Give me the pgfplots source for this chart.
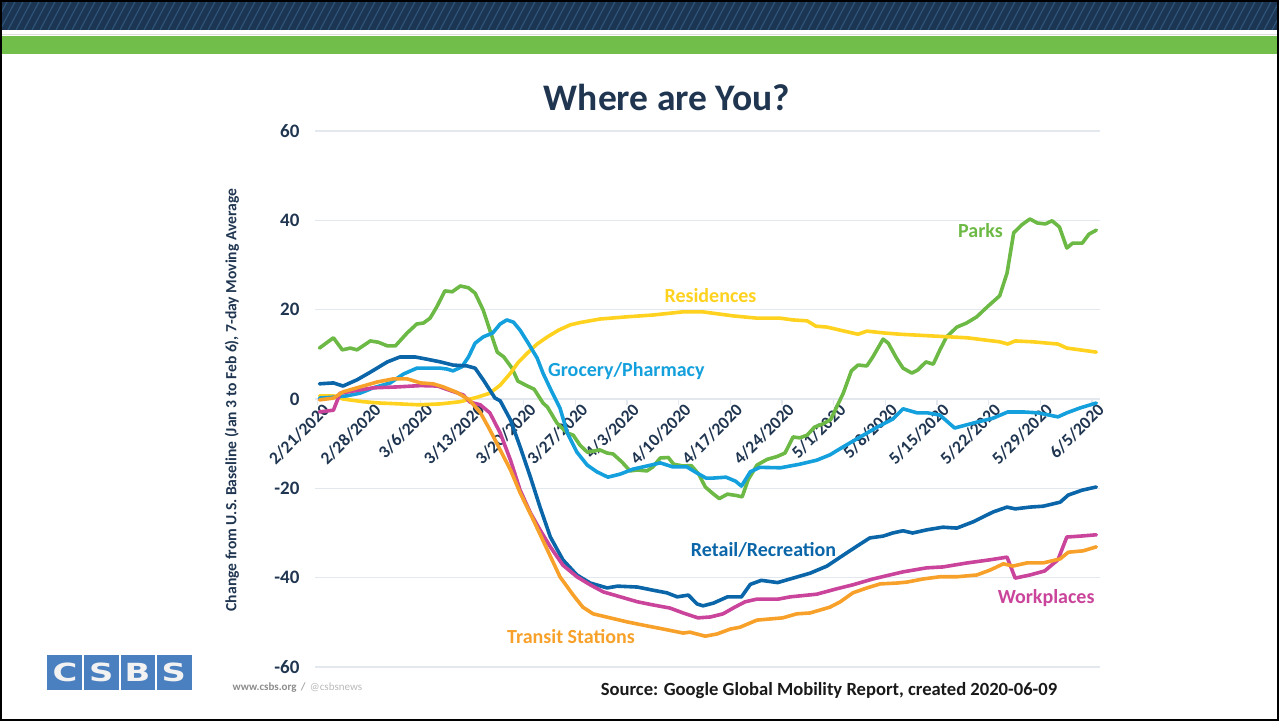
\documentclass[border=0pt]{standalone}
\usepackage{fontspec}
\setmainfont{Carlito}
\newfontfamily\logofont{DejaVu Sans}
\usepackage{pgfplots}
\pgfplotsset{compat=1.18}
\definecolor{navy}{HTML}{1F3550}
\definecolor{band}{HTML}{1B3552}
\definecolor{stripe}{HTML}{4F84B8}
\definecolor{bandgreen}{HTML}{72BE4A}
\definecolor{gridc}{HTML}{E3E8EF}
\definecolor{parkc}{HTML}{6DB945}
\definecolor{resc}{HTML}{FFD21F}
\definecolor{grocc}{HTML}{14A0DC}
\definecolor{retc}{HTML}{0A66A8}
\definecolor{workc}{HTML}{C9449A}
\definecolor{tranc}{HTML}{F7A12A}
\definecolor{logoblue}{HTML}{4A80C0}
\begin{document}
\begin{tikzpicture}[x=1pt,y=1pt]
% banner
\fill[band] (0,691) rectangle (1279,721);
\begin{scope}
\clip (0,691) rectangle (1279,721);
\foreach \x in {-40,-32,...,1300} {
  \draw[stripe, opacity=0.4, line width=1.2pt] (\x,691) -- (\x+16,721);
}
\end{scope}
\fill[gray!25] (0,686) rectangle (1279,687);
\fill[bandgreen] (0,667) rectangle (1279,685);
% frame
\draw[black, line width=2pt] (1,1) rectangle (1278,720);
% title
\node[font=\bfseries\fontsize{37.5}{37.5}\selectfont, text=navy] at (667,624) {Where are You?};
% y label
\node[rotate=90, font=\bfseries\fontsize{15.6}{15.6}\selectfont, text=navy] at (232,321) {Change from U.S. Baseline (Jan 3 to Feb 6), 7-day Moving Average};
% logo
\fill[logoblue] (47,31) rectangle (192,66);
\foreach \i in {1,2,3} { \fill[white] (47+\i*36.25-1,31) rectangle (47+\i*36.25+1,66); }
\foreach \i/\l in {0/C,1/S,2/B,3/S} {
  \node[text=white!90!gray, font=\logofont\bfseries\fontsize{25}{25}\selectfont] at (47+\i*36.25+18.1,48.5) {\scalebox{1.35}[1]{\l}};
}
\node[anchor=west, font=\bfseries\fontsize{11}{11}\selectfont, text=gray!90] at (229,33) {www.csbs.org \,\textcolor{gray!70}{/}\, \textcolor{gray!55}{\mdseries @csbsnews}};
% source
\node[font=\bfseries\fontsize{18.6}{18.6}\selectfont, text=black!90] at (829,30) {Source: Google Global Mobility Report, created 2020-06-09};
\begin{axis}[
  set layers,
  at={(315pt,54pt)}, anchor=south west, scale only axis,
  width=785pt, height=536pt,
  xmin=-0.3, xmax=106.1, ymin=-60, ymax=60,
  axis x line*=middle, axis y line*=left,
  x axis line style={draw=gridc, line width=1.2pt},
  y axis line style={draw=none},
  ytick={-60,-40,...,60},
  ymajorgrids, grid style={draw=gridc, line width=1.2pt},
  ytick style={draw=none},
  xtick={0,7,...,105},
  xticklabels={2/21/2020,2/28/2020,3/6/2020,3/13/2020,3/20/2020,3/27/2020,4/3/2020,4/10/2020,4/17/2020,4/24/2020,5/1/2020,5/8/2020,5/15/2020,5/22/2020,5/29/2020,6/5/2020},
  xtick style={draw=gridc, line width=1.2pt},
  tick align=outside, major tick length=6pt,
  /pgf/number format/assume math mode=true,
  yticklabel style={font=\bfseries\fontsize{19}{19}\selectfont, text=navy, xshift=-6pt},
  xticklabel style={rotate=45, anchor=east, font=\bfseries\fontsize{17.5}{17.5}\selectfont, text=navy, inner sep=1pt, xshift=6pt, yshift=-8pt},
  every axis plot/.append style={line width=3.6pt, line join=round, line cap=round},
  clip=false,
]
\addplot[parkc] coordinates {
(0.3,11.4)(2.2,13.7)(3.4,11.0)(4.5,11.4)(5.4,11.0)(7.2,13.0)(8.3,12.7)(9.5,11.9)(10.6,11.9)(12.2,14.8)(13.5,16.8)(14.4,17.0)(15.3,18.1)(16.2,20.6)(17.3,24.2)(18.3,24.0)(19.4,25.3)(20.5,24.9)(21.4,23.7)(22.5,19.9)(23.4,15.4)(24.4,10.5)(25.3,9.4)(26.4,6.9)(27.2,4.0)(28.5,2.9)(29.4,2.2)(30.6,-0.9)(31.2,-1.8)(32.5,-5.4)(33.9,-7.6)(34.7,-8.1)(35.6,-10.3)(36.6,-11.9)(38.3,-11.4)(39.3,-12.1)(40.1,-12.3)(41.3,-14.1)(42.4,-16.1)(43.4,-15.9)(44.7,-16.1)(45.5,-15.2)(46.5,-13.2)(47.6,-13.1)(48.3,-14.6)(49.6,-15.0)(50.7,-14.9)(51.7,-16.8)(52.6,-19.7)(53.5,-21.0)(54.5,-22.3)(55.6,-21.3)(56.8,-21.6)(57.6,-21.9)(58.4,-18.1)(59.6,-14.8)(61.0,-13.5)(62.3,-12.9)(63.4,-12.1)(64.5,-8.5)(65.4,-8.7)(66.4,-8.1)(67.4,-6.3)(68.5,-5.6)(69.6,-4.6)(70.4,-1.8)(71.3,1.3)(72.4,6.3)(73.3,7.6)(74.5,7.4)(75.3,9.4)(76.7,13.4)(77.4,12.5)(78.5,9.2)(79.4,6.9)(80.6,5.8)(81.4,6.5)(82.5,8.3)(83.5,7.8)(84.4,11.0)(85.3,13.9)(86.7,16.1)(88.0,17.0)(89.4,18.4)(90.8,20.6)(92.5,23.1)(93.5,28.2)(94.4,37.2)(95.5,39.0)(96.6,40.3)(97.6,39.4)(98.7,39.2)(99.6,39.9)(100.6,38.5)(101.6,33.8)(102.4,34.9)(103.7,34.9)(104.6,36.9)(105.6,37.8)
};
\addplot[resc] coordinates {
(0.3,0.7)(2.2,0.7)(3.5,0.0)(6.2,-0.6)(8.5,-0.9)(11.2,-1.1)(13.7,-1.3)(16.7,-1.1)(19.4,-0.6)(21.7,0.4)(23.4,1.3)(24.8,3.1)(26.2,5.8)(27.2,8.1)(28.5,10.3)(29.8,12.3)(31.2,13.9)(32.7,15.4)(34.3,16.6)(35.6,17.1)(38.3,17.9)(42.0,18.4)(45.5,18.8)(49.5,19.5)(52.3,19.5)(56.4,18.6)(59.6,18.1)(62.7,18.1)(64.5,17.7)(66.4,17.5)(67.6,16.3)(69.1,16.1)(70.9,15.4)(73.3,14.5)(74.5,15.2)(76.7,14.8)(79.0,14.5)(83.5,14.1)(88.1,13.7)(92.5,12.8)(93.6,12.3)(94.6,13.0)(97.0,12.8)(100.4,12.3)(101.6,11.4)(105.6,10.5)
};
\addplot[grocc] coordinates {
(0.3,0.2)(2.2,0.4)(4.0,0.7)(5.8,1.3)(7.6,2.5)(9.9,3.6)(11.7,5.6)(13.5,6.9)(15.3,6.9)(16.7,6.9)(17.6,6.7)(18.4,6.3)(19.6,7.2)(20.5,9.4)(21.4,12.5)(22.5,13.9)(23.8,14.8)(24.8,16.8)(25.7,17.7)(26.6,17.2)(27.5,15.4)(28.6,12.5)(29.8,9.2)(30.6,5.8)(31.8,1.6)(32.9,-2.0)(33.9,-7.6)(35.2,-11.9)(36.6,-14.8)(37.9,-16.3)(39.4,-17.5)(41.1,-16.8)(42.8,-15.7)(44.7,-15.0)(46.5,-14.3)(48.2,-15.2)(50.1,-15.2)(51.5,-16.6)(52.7,-17.7)(53.7,-17.7)(55.4,-17.5)(56.7,-18.4)(57.5,-19.5)(58.7,-16.3)(60.0,-15.3)(62.8,-15.4)(65.4,-14.6)(67.7,-13.7)(69.5,-12.5)(71.3,-10.7)(73.6,-8.5)(75.9,-6.3)(78.0,-4.5)(79.4,-2.2)(81.3,-3.1)(82.7,-3.1)(84.4,-3.6)(86.4,-6.5)(88.9,-5.4)(91.6,-4.3)(93.6,-2.9)(95.7,-2.9)(97.7,-3.1)(100.4,-4.0)(101.6,-3.1)(103.4,-2.0)(105.6,-0.9)
};
\addplot[retc] coordinates {
(0.3,3.4)(2.2,3.6)(3.5,2.9)(5.4,4.3)(7.2,6.0)(9.5,8.3)(11.2,9.4)(13.3,9.4)(14.9,8.9)(16.7,8.3)(18.4,7.6)(20.3,7.4)(21.4,6.9)(22.5,4.3)(24.1,0.2)(24.8,-0.4)(26.2,-4.7)(27.5,-10.7)(28.9,-17.5)(30.2,-24.2)(31.6,-30.9)(33.3,-36.0)(35.2,-39.4)(37.0,-41.2)(39.3,-42.3)(40.7,-41.9)(43.4,-42.1)(45.5,-42.8)(47.4,-43.4)(48.8,-44.3)(50.3,-43.9)(51.5,-45.9)(52.3,-46.3)(53.7,-45.7)(55.6,-44.3)(57.5,-44.3)(58.7,-41.5)(60.2,-40.6)(62.4,-41.1)(64.5,-40.1)(66.8,-39.0)(69.1,-37.4)(70.9,-35.4)(73.2,-32.9)(74.9,-31.1)(76.7,-30.7)(78.0,-30.0)(79.4,-29.5)(80.7,-30.0)(82.6,-29.3)(84.8,-28.7)(86.7,-28.9)(88.9,-27.5)(91.6,-25.3)(93.5,-24.2)(94.6,-24.6)(96.6,-24.2)(98.4,-24.0)(100.7,-23.1)(101.8,-21.5)(103.7,-20.4)(105.6,-19.7)
};
\addplot[workc] coordinates {
(0.3,-2.9)(2.2,-2.5)(3.1,1.3)(4.9,1.8)(7.6,2.5)(10.8,2.7)(14.0,3.0)(16.3,2.9)(18.2,1.8)(19.8,0.9)(20.7,-0.7)(22.1,-1.3)(23.4,-3.1)(24.8,-7.6)(26.2,-13.7)(27.5,-20.4)(28.9,-25.5)(30.2,-29.3)(31.6,-33.1)(33.3,-37.2)(35.2,-39.8)(37.0,-41.6)(38.8,-43.2)(41.1,-44.3)(43.4,-45.4)(45.5,-46.1)(47.8,-46.8)(49.6,-47.9)(51.6,-49.0)(53.3,-48.8)(55.0,-48.1)(56.6,-46.6)(58.0,-45.4)(59.6,-44.8)(62.5,-44.8)(64.1,-44.3)(67.7,-43.7)(70.4,-42.5)(72.6,-41.6)(75.3,-40.3)(77.6,-39.4)(79.4,-38.7)(82.6,-37.8)(84.8,-37.6)(88.1,-36.7)(91.2,-36.0)(93.5,-35.4)(94.6,-40.1)(96.6,-39.4)(98.6,-38.5)(100.4,-36.0)(101.6,-30.9)(103.4,-30.7)(105.6,-30.4)
};
\addplot[tranc] coordinates {
(0.3,-0.2)(2.2,0.2)(3.5,1.6)(5.8,2.7)(8.1,3.8)(10.3,4.5)(12.2,4.5)(14.0,3.6)(15.7,3.4)(17.1,2.7)(18.9,1.5)(20.6,-0.2)(22.1,-3.0)(23.4,-6.9)(24.8,-11.4)(26.2,-15.9)(27.5,-21.0)(29.3,-27.1)(31.2,-33.8)(32.9,-39.8)(34.7,-43.9)(36.0,-46.6)(37.4,-48.1)(39.7,-49.0)(42.0,-49.9)(44.7,-50.8)(46.9,-51.5)(49.6,-52.4)(50.5,-52.2)(52.6,-53.1)(54.2,-52.6)(56.0,-51.5)(57.3,-51.1)(59.6,-49.5)(63.1,-49.0)(65.0,-48.1)(66.8,-47.9)(69.5,-46.6)(70.9,-45.4)(72.6,-43.4)(74.5,-42.3)(76.3,-41.4)(78.6,-41.2)(79.9,-41.0)(82.1,-40.3)(84.4,-39.8)(86.7,-39.8)(89.4,-39.4)(91.2,-38.3)(93.0,-36.9)(94.3,-37.4)(96.2,-36.7)(98.4,-36.7)(100.7,-35.8)(101.8,-34.3)(103.8,-34.0)(105.6,-33.1)
};
\node[font=\bfseries\fontsize{20}{20}\selectfont, text=parkc] at (axis cs:89.9,37.6) {Parks};
\node[font=\bfseries\fontsize{20}{20}\selectfont, text=resc] at (axis cs:53.3,23.1) {Residences};
\node[font=\bfseries\fontsize{20}{20}\selectfont, text=grocc] at (axis cs:41.9,6.3) {Grocery/Pharmacy};
\node[font=\bfseries\fontsize{20}{20}\selectfont, text=retc] at (axis cs:60.5,-33.8) {Retail/Recreation};
\node[font=\bfseries\fontsize{20}{20}\selectfont, text=workc] at (axis cs:98.8,-44.6) {Workplaces};
\node[font=\bfseries\fontsize{20}{20}\selectfont, text=tranc] at (axis cs:34.4,-53.1) {Transit Stations};
\end{axis}
\pgfresetboundingbox
\path (0,0) rectangle (1279,721);
\end{tikzpicture}
\end{document}
